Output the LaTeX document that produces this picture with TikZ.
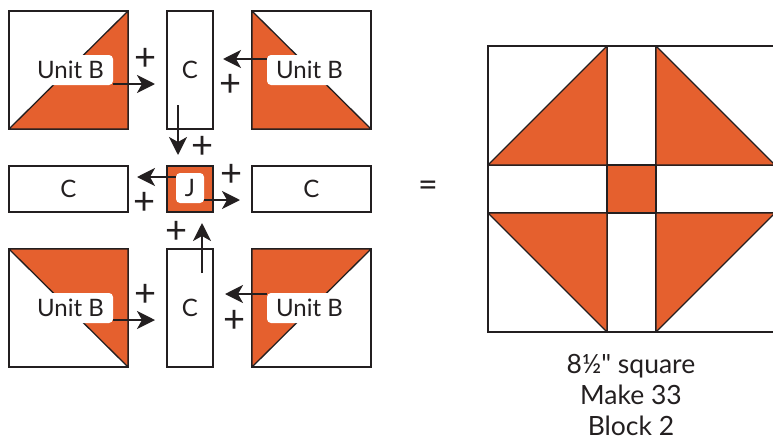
\documentclass[tikz,border=0pt]{standalone}
\usepackage{fontspec}
\setmainfont{Lato}
\newfontfamily\plainlato{Lato}
\usetikzlibrary{positioning, arrows.meta}
\definecolor{quiltorange}{RGB}{229,96,46}
\definecolor{inkgray}{RGB}{35,31,32}
\tikzset{
    unit/.style={
        rectangle,
        draw=inkgray,
        line width=1.3pt,
        fill=white,
        minimum width=119pt,
        minimum height=118pt,
        inner sep=0pt,
        outer sep=0pt,
        text=inkgray,
        font=\fontsize{24}{28}\selectfont
    },
    strip/.style={
        unit,
        minimum width=46pt
    },
    bar/.style={
        unit,
        minimum height=46pt
    },
    tri/.style={
        fill=quiltorange,
        draw=inkgray,
        line width=1.3pt,
        line join=round
    },
    tag/.style={
        rectangle,
        rounded corners=4pt,
        fill=white,
        minimum width=85pt,
        minimum height=30pt,
        inner sep=0pt,
        text=inkgray,
        font=\fontsize{24}{28}\selectfont
    },
    plus/.style={
        inner sep=0pt,
        text=inkgray,
        font=\fontsize{38}{40}\selectfont
    },
    arrow/.style={
        draw=inkgray,
        line width=2.2pt,
        -{Stealth[length=18pt, width=18pt, inset=5pt]}
    },
}
\begin{document}
\begin{tikzpicture}[x=1pt, y=-1pt]
\clip (0,0) rectangle (773,442);

% Units to sew
\node[unit] (ubTL) at (68.5,70) {};
\node[strip, right=39pt of ubTL] (cTop) {C};
\node[unit, right=39pt of cTop] (ubTR) {};

\node[bar, below=37pt of ubTL] (cLeft) {C};
\node[unit, minimum width=46pt, minimum height=46pt, fill=quiltorange, below=37pt of cTop] (jMid) {};
\node[bar, below=37pt of ubTR] (cRight) {C};

\node[unit, below=37pt of cLeft] (ubBL) {};
\node[strip, below=37pt of jMid] (cBot) {C};
\node[unit, below=37pt of cRight] (ubBR) {};

% Half-square triangles
\filldraw[tri] (ubTL.north east) -- (ubTL.south west) -- (ubTL.south east) -- cycle;
\filldraw[tri] (ubTR.north west) -- (ubTR.south west) -- (ubTR.south east) -- cycle;
\filldraw[tri] (ubBL.north west) -- (ubBL.north east) -- (ubBL.south east) -- cycle;
\filldraw[tri] (ubBR.north west) -- (ubBR.north east) -- (ubBR.south west) -- cycle;

% Labels
\node[tag] (lblTL) at (70.5,70) {Unit B};
\node[tag] (lblTR) at (309.5,70) {Unit B};
\node[tag] (lblBL) at (70.5,308) {Unit B};
\node[tag] (lblBR) at (309.5,308) {Unit B};
\node[tag, minimum width=28pt] (lblJ) at (190,188) {J};

% Arrow tips
\coordinate (tipTL) at (155,84);
\coordinate (tipTR) at (223,59);
\coordinate (tipTop) at (178,155);
\coordinate (tipJL) at (137,177);
\coordinate (tipJR) at (240,200);
\coordinate (tipBot) at (202,223);
\coordinate (tipBL) at (155,320);
\coordinate (tipBR) at (225,294);

\draw[arrow] (lblTL.east |- tipTL) -- (tipTL);
\draw[arrow] (lblTR.west |- tipTR) -- (tipTR);
\draw[arrow] ([yshift=24pt]cTop.south -| tipTop) -- (tipTop);
\draw[arrow] (lblJ.west |- tipJL) -- (tipJL);
\draw[arrow] (lblJ.east |- tipJR) -- (tipJR);
\draw[arrow] ([yshift=-24pt]cBot.north -| tipBot) -- (tipBot);
\draw[arrow] (lblBL.east |- tipBL) -- (tipBL);
\draw[arrow] (lblBR.west |- tipBR) -- (tipBR);

% Plus signs
\node[plus] (p1) at (146,59) {+};
\node[plus] (p2) at (231,85) {+};
\node[plus] (p3) at (203,147) {+};
\node[plus] (p4) at (232,175) {+};
\node[plus] (p5) at (145,203) {+};
\node[plus] (p6) at (177,232) {+};
\node[plus] (p7) at (146,295) {+};
\node[plus] (p8) at (235,321) {+};

\node[plus, font=\fontsize{34}{36}\selectfont] (eq) at (428,189) {=};

% Finished block
\node[unit, minimum height=119pt] (blTL) at (547.5,105.5) {};
\node[unit, minimum height=119pt, minimum width=49pt, right=0pt of blTL] (stTop) {};
\node[unit, minimum height=119pt, right=0pt of stTop] (blTR) {};
\node[unit, minimum height=48pt, below=0pt of blTL] (stLeft) {};
\node[unit, minimum height=48pt, minimum width=49pt, fill=quiltorange, right=0pt of stLeft] (sqMid) {};
\node[unit, minimum height=48pt, right=0pt of sqMid] (stRight) {};
\node[unit, minimum height=119pt, below=0pt of stLeft] (blBL) {};
\node[unit, minimum height=119pt, minimum width=49pt, right=0pt of blBL] (stBot) {};
\node[unit, minimum height=119pt, right=0pt of stBot] (blBR) {};

\filldraw[tri] (blTL.north east) -- (blTL.south west) -- (blTL.south east) -- cycle;
\filldraw[tri] (blTR.north west) -- (blTR.south west) -- (blTR.south east) -- cycle;
\filldraw[tri] (blBL.north west) -- (blBL.north east) -- (blBL.south east) -- cycle;
\filldraw[tri] (blBR.north west) -- (blBR.north east) -- (blBR.south west) -- cycle;

% Caption
\node[plus, align=center, font=\plainlato\fontsize{26.5}{31}\selectfont] (caption) at (631,395) {8½" square\\Make 33\\Block 2};

\end{tikzpicture}
\end{document}
